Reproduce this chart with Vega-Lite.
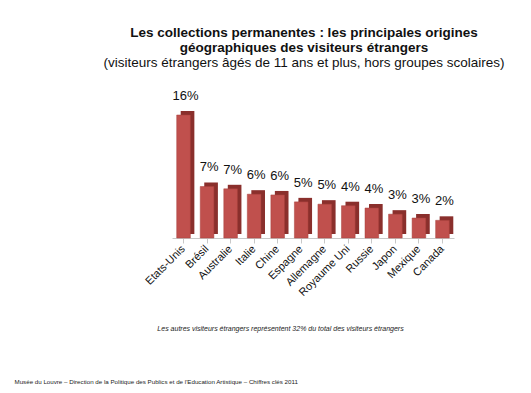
{
  "$schema": "https://vega.github.io/schema/vega-lite/v6.json",
  "autosize": "none",
  "width": 282,
  "height": 148,
  "padding": {"left": 172, "top": 90, "right": 77, "bottom": 155},
  "background": "white",
  "config": {"view": {"stroke": null}, "font": "Liberation Sans"},
  "title": {
    "text": ["Les collections permanentes : les principales origines", "géographiques des visiteurs étrangers"],
    "subtitle": "(visiteurs étrangers âgés de 11 ans et plus, hors groupes scolaires)",
    "font": "Liberation Sans",
    "fontSize": 13.5,
    "fontWeight": "bold",
    "lineHeight": 15,
    "color": "#111",
    "subtitleFont": "Liberation Sans",
    "subtitleFontSize": 13.5,
    "subtitleColor": "#111",
    "subtitlePadding": 2,
    "subtitleLineHeight": 15,
    "anchor": "middle",
    "dx": -9,
    "offset": 20
  },
  "data": {
    "values": [
      {"pays": "Etats-Unis", "part": 16.0, "label": "16%"},
      {"pays": "Brésil", "part": 6.7, "label": "7%"},
      {"pays": "Australie", "part": 6.4, "label": "7%"},
      {"pays": "Italie", "part": 5.7, "label": "6%"},
      {"pays": "Chine", "part": 5.6, "label": "6%"},
      {"pays": "Espagne", "part": 4.7, "label": "5%"},
      {"pays": "Allemagne", "part": 4.4, "label": "5%"},
      {"pays": "Royaume Uni", "part": 4.2, "label": "4%"},
      {"pays": "Russie", "part": 3.9, "label": "4%"},
      {"pays": "Japon", "part": 3.1, "label": "3%"},
      {"pays": "Mexique", "part": 2.6, "label": "3%"},
      {"pays": "Canada", "part": 2.3, "label": "2%"}
    ]
  },
  "encoding": {
    "x": {
      "field": "pays",
      "type": "nominal",
      "sort": null,
      "scale": {"paddingInner": 0.42, "paddingOuter": 0.2},
      "axis": {
        "title": "Les autres visiteurs étrangers représentent 32% du total des visiteurs étrangers",
        "titleFont": "Liberation Sans",
        "titleFontStyle": "italic",
        "titleFontWeight": "normal",
        "titleFontSize": 7,
        "titleColor": "#222",
        "titleX": 108,
        "titleY": 90,
        "titleAlign": "center",
        "titleBaseline": "middle",
        "labelAngle": -45,
        "labelAlign": "right",
        "labelBaseline": "middle",
        "labelFont": "Liberation Sans",
        "labelFontSize": 11,
        "labelColor": "#111",
        "labelPadding": 4,
        "domainColor": "#c8c8c8",
        "tickColor": "#c8c8c8",
        "tickSize": 5,
        "ticks": true,
        "grid": false
      }
    },
    "y": {
      "field": "part",
      "type": "quantitative",
      "scale": {"domain": [0, 19.25], "nice": false},
      "axis": {
        "title": "Musée du Louvre – Direction de la Politique des Publics et de l'Education Artistique –  Chiffres clés 2011",
        "titleFont": "Liberation Sans",
        "titleFontWeight": "normal",
        "titleFontSize": 6.2,
        "titleColor": "#222",
        "titleAngle": 0,
        "titleAlign": "left",
        "titleBaseline": "middle",
        "titleX": -158,
        "titleY": 291,
        "domain": false,
        "ticks": false,
        "labels": false,
        "grid": false
      }
    }
  },
  "layer": [
    {"mark": {"type": "bar", "color": "#8a2f2c", "xOffset": 4, "yOffset": -4, "cornerRadius": 0}},
    {"mark": {"type": "bar", "color": "#c0504d", "stroke": "#a8403d", "strokeWidth": 0.5}},
    {
      "mark": {"type": "text", "dy": -12, "dx": 2, "baseline": "bottom", "fontSize": 13, "font": "Liberation Sans", "color": "#111"},
      "encoding": {"text": {"field": "label"}}
    }
  ]
}
